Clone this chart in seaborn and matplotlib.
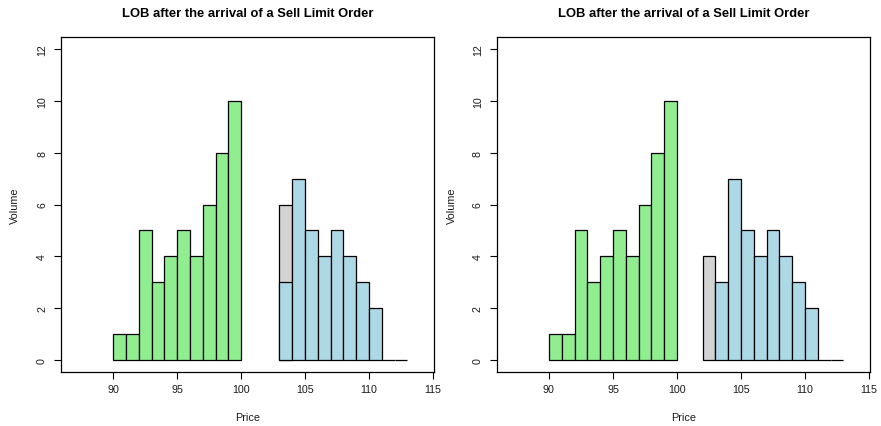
import numpy as np
import pandas as pd
import matplotlib
matplotlib.use("Agg")
import matplotlib.pyplot as plt
import seaborn as sns

# ---- data ----
bid_prices = [90, 91, 92, 93, 94, 95, 96, 97, 98, 99]
bid_volumes = [1, 1, 5, 3, 4, 5, 4, 6, 8, 10]
ask_prices = [103, 104, 105, 106, 107, 108, 109, 110, 111, 112]
ask_volumes = [3, 7, 5, 4, 5, 4, 3, 2, 0, 0]

# left panel: new sell order stacked at 103 (total shown)
left_new_price = [103]
left_new_total = [6]
# right panel: new sell order placed at 102
right_new_price = [102]
right_new_volume = [4]

title = "LOB after the arrival of a Sell Limit Order"
x_ticks = [90, 95, 100, 105, 110, 115]
y_ticks = [0, 2, 4, 6, 8, 10, 12]

GREEN = "#90EE90"
BLUE = "#ADD8E6"
GREY = "#D3D3D3"

sns.set_style("ticks")
plt.rcParams["font.family"] = ["Liberation Sans", "DejaVu Sans"]

W, H = 881, 427
fig = plt.figure(figsize=(W / 100, H / 100), dpi=100)

def px_axes(l, t, r, b):
    return fig.add_axes([l / W, 1 - b / H, (r - l) / W, (b - t) / H])

def hist(ax, prices, vols, color):
    edges = list(prices) + [prices[-1] + 1]
    sns.histplot(x=prices, weights=vols, bins=edges, ax=ax, color=color,
                 edgecolor="black", linewidth=0.9, alpha=1, fill=True,
                 element="bars")

panels = [
    (61, 38, 434, 373, "left"),
    (496.7, 38, 870, 373, "right"),
]

for l, t, r, b, kind in panels:
    ax = px_axes(l, t, r, b)
    hist(ax, bid_prices, bid_volumes, GREEN)
    if kind == "left":
        hist(ax, left_new_price, left_new_total, GREY)
        hist(ax, ask_prices, ask_volumes, BLUE)
    else:
        hist(ax, right_new_price, right_new_volume, GREY)
        hist(ax, ask_prices, ask_volumes, BLUE)

    ax.set_xlim(85.92, 115.08)
    ax.set_ylim(-0.48, 12.48)
    ax.set_xticks(x_ticks)
    ax.set_yticks(y_ticks)
    ax.set_yticklabels([str(v) for v in y_ticks], rotation=90, va="center")
    ax.tick_params(axis="both", length=5, width=0.8, color="black",
                   labelsize=7.7, labelcolor="#1a1a1a")
    ax.tick_params(axis="x", pad=4.0)
    ax.tick_params(axis="y", pad=5.0)
    for s in ax.spines.values():
        s.set_visible(True)
        s.set_color("black")
        s.set_linewidth(0.9)

    ax.set_title(title, fontsize=9.4, fontweight="bold", pad=15, color="black")
    ax.set_xlabel("Price", fontsize=7.8, color="#1a1a1a")
    ax.set_ylabel("Volume", fontsize=7.8, color="#1a1a1a")
    hpx = b - t
    wpx = r - l
    ax.xaxis.set_label_coords(0.5, -(418 - b) / hpx)
    ax.xaxis.label.set_va("center")
    ylab_x = 15 if kind == "left" else 451.7
    ax.yaxis.set_label_coords((ylab_x - l) / wpx, 0.5)
    ax.yaxis.label.set_va("center")

fig.savefig("out.png", dpi=100)
